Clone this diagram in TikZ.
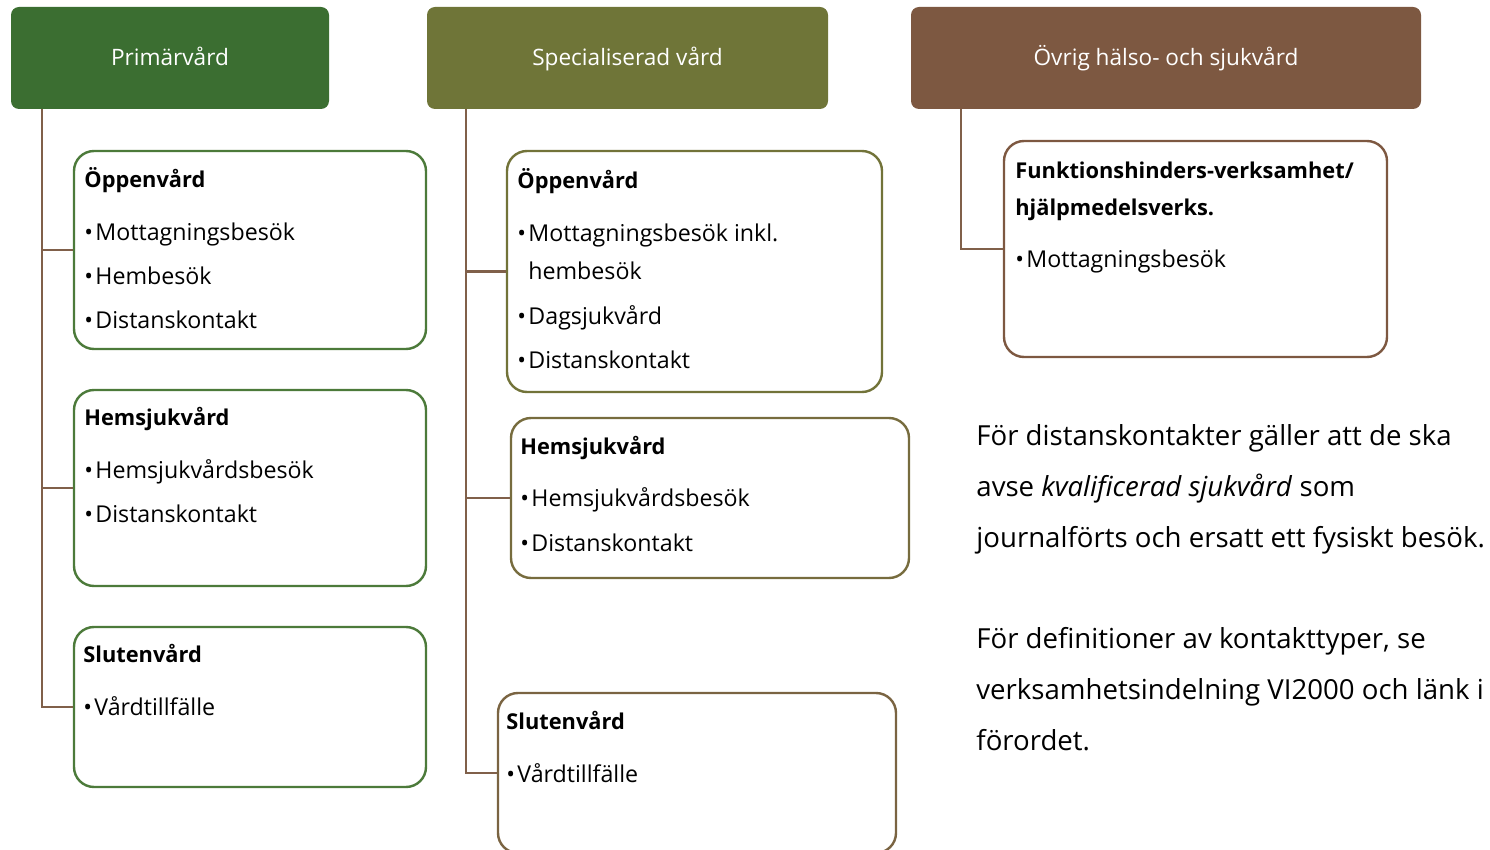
\documentclass[tikz,border=0pt]{standalone}
\usepackage{fontspec}
\setmainfont{Open Sans}
\usepackage{xcolor}
\usetikzlibrary{positioning,fit}

\definecolor{primgreen}{HTML}{3B6E31}
\definecolor{specolive}{HTML}{6F7538}
\definecolor{ovrbrown}{HTML}{7D5841}
\definecolor{boxgreen}{HTML}{4C7A3A}
\definecolor{boxolive}{HTML}{727339}
\definecolor{boxumber}{HTML}{776C3E}
\definecolor{boxbrown}{HTML}{7A6442}
\definecolor{linkbrown}{HTML}{80604A}

\tikzset{
  head/.style={fill=#1, rounded corners=4pt, inner sep=0pt},
  headtext/.style={text=white, inner sep=0pt, anchor=base, yshift=-4pt,
    font=\fontsize{11.3}{13}\selectfont},
  cbox/.style={draw=#1, line width=1.2pt, rounded corners=10pt, inner sep=0pt, fill=white},
  conn/.style={draw=linkbrown, line width=1.3pt},
  title/.style={anchor=base west, inner sep=0pt, font=\bfseries\fontsize{10.9}{13}\selectfont},
  item/.style={anchor=base west, inner sep=0pt, font=\fontsize{11.6}{13}\selectfont},
  note/.style={anchor=base west, inner sep=0pt, font=\fontsize{13.8}{17}\selectfont}
}

\begin{document}
\begin{tikzpicture}[x=0.5pt, y=-0.5pt]
\useasboundingbox (0,0) rectangle (1490,850);
\clip (0,0) rectangle (1490,850);

% Headers
\node[head=primgreen, fit={(11,7) (329,109)}] (prim) {};
\node[head=specolive, fit={(427,7) (828,109)}] (spec) {};
\node[head=ovrbrown, fit={(911,7) (1421,109)}] (ovr) {};
\node[headtext] (primL) at (prim.center) {Primärvård};
\node[headtext] (specL) at (spec.center) {Specialiserad vård};
\node[headtext] (ovrL) at (ovr.center) {Övrig hälso- och sjukvård};

% Primärvård
\node[cbox=boxgreen, fit={(74,151) (426,349)}] (pOpp) {};
\node[cbox=boxgreen, fit={(74,390) (426,586)}] (pHem) {};
\node[cbox=boxgreen, fit={(74,627) (426,787)}] (pSlut) {};
\coordinate (pTop) at (42,109);
\draw[conn] (pTop) |- (pOpp.west);
\draw[conn] (pTop) |- (pHem.west);
\draw[conn] (pTop) |- (pSlut.west);

\node[title] (pOppT) at (84,188) {Öppenvård};
\foreach \t [count=\i] in {Mottagningsbesök,Hembesök,Distanskontakt}
  \node[item] (pOpp\i) at (84,197+44*\i) {•\hspace{0.1em}\t};
\node[title] (pHemT) at (84,426) {Hemsjukvård};
\foreach \t [count=\i] in {Hemsjukvårdsbesök,Distanskontakt}
  \node[item] (pHem\i) at (84,435+44*\i) {•\hspace{0.1em}\t};
\node[title] (pSlutT) at (83,662) {Slutenvård};
\node[item] (pSlut1) at (83,715) {•\hspace{0.1em}Vårdtillfälle};

% Specialiserad vård
\node[cbox=boxolive, fit={(507,151) (882,392)}] (sOpp) {};
\node[cbox=boxumber, fit={(511,418) (909,578)}] (sHem) {};
\node[cbox=boxbrown, fit={(498,693) (896,853)}] (sSlut) {};
\coordinate (sTop) at (466,109);
\draw[conn] (sTop) |- (sOpp.west);
\draw[conn] (sTop) |- (sHem.west);
\draw[conn] (sTop) |- (sSlut.west);

\node[title] (sOppT) at (517,189) {Öppenvård};
\node[item] (sOpp1) at (517,242) {•\hspace{0.1em}Mottagningsbesök inkl.};
\node[item] (sOpp1b) at (528,280) {hembesök};
\node[item] (sOpp2) at (517,325) {•\hspace{0.1em}Dagsjukvård};
\node[item] (sOpp3) at (517,369) {•\hspace{0.1em}Distanskontakt};
\node[title] (sHemT) at (520,454) {Hemsjukvård};
\foreach \t [count=\i] in {Hemsjukvårdsbesök,Distanskontakt}
  \node[item] (sHem\i) at (520,462+45*\i) {•\hspace{0.1em}\t};
\node[title] (sSlutT) at (506,729) {Slutenvård};
\node[item] (sSlut1) at (506,782) {•\hspace{0.1em}Vårdtillfälle};

% Övrig hälso- och sjukvård
\node[cbox=ovrbrown, fit={(1004,141) (1387,357)}] (oFunk) {};
\coordinate (oTop) at (961,109);
\draw[conn] (oTop) |- (oFunk.west);
\node[title] (oFunkT) at (1015,179) {Funktionshinders-verksamhet/};
\node[title] (oFunkT2) at (1015,216) {hjälpmedelsverks.};
\node[item] (oFunk1) at (1015,268) {•\hspace{0.1em}Mottagningsbesök};

% Notes
\foreach \t [count=\i] in {För distanskontakter gäller att de ska,
    {avse \textit{kvalificerad sjukvård} som},
    journalförts och ersatt ett fysiskt besök.}
  \node[note] (note\i) at (976,394+51*\i) {\t};
\foreach \t [count=\i] in {{För definitioner av kontakttyper, se},
    verksamhetsindelning VI2000 och länk i,
    förordet.}
  \node[note] (def\i) at (976,597+51*\i) {\t};
\end{tikzpicture}
\end{document}
